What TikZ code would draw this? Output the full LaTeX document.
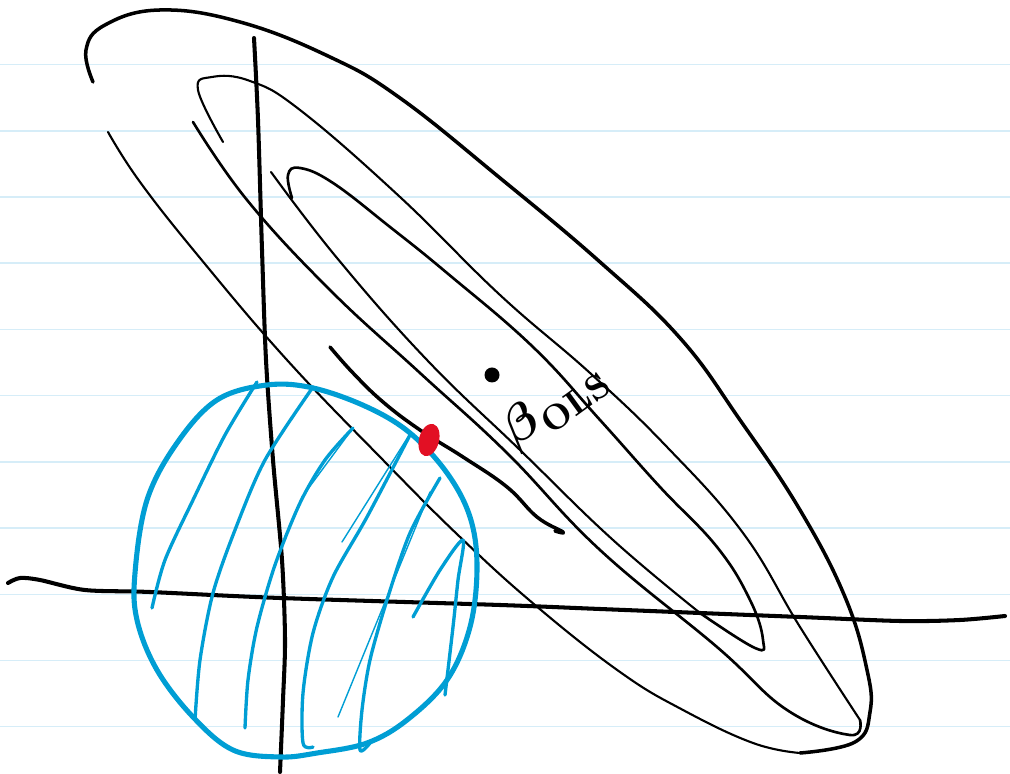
\documentclass[tikz,border=0pt]{standalone}
\usepackage{amsmath}
\usepackage{tikz}
\usetikzlibrary{shapes.geometric}

\definecolor{rulecol}{RGB}{214,237,248}
\definecolor{ridgeblue}{RGB}{0,158,212}
\definecolor{ridgered}{RGB}{226,16,36}

\begin{document}
\begin{tikzpicture}[x=0.01cm,y=-0.01cm,line cap=round,line join=round,
rule line/.style={draw=rulecol,line width=0.45pt},
thin contour/.style={draw=black,line width=0.6pt},
contour/.style={draw=black,line width=0.75pt},
outer contour/.style={draw=black,line width=1pt},
axis line/.style={draw=black,line width=1.15pt},
ridge ball/.style={draw=ridgeblue,line width=1.45pt},
hatch/.style={draw=ridgeblue,line width=0.95pt},
thin hatch/.style={draw=ridgeblue,line width=0.4pt},
ols dot/.style={circle,fill=black,inner sep=0pt,minimum size=1.5mm},
ridge dot/.style={ellipse,fill=ridgered,inner sep=0pt,minimum width=2mm,minimum height=3.3mm}]

\useasboundingbox (0,0) rectangle (1010,774);

%ruled paper
\foreach \k in {0,...,10}
  \draw[rule line] (0,64.7+66.2*\k) -- (1010,64.7+66.2*\k);

%outer contour
\draw[outer contour] plot[smooth,tension=0.7] coordinates {(93,82) (86,50) (105,25) (160,10) (240,22) (330,57) (400,98) (500,178) (600,262) (680,338) (740,420) (800,510) (845,597) (867,670) (870,712) (855,742) (800,753)};
\draw[thin contour] plot[smooth,tension=0.7] coordinates {(800,753) (753,743) (683,710) (620,672) (535,605) (460,537) (383,460) (287,360) (200,258) (140,182) (108,132)};
%middle contour
\draw[thin contour] plot[smooth,tension=0.7] coordinates {(223,142) (198,90) (212,77) (250,81) (300,110) (400,197) (500,295) (590,373) (667,447) (743,533) (800,627) (860,720)};
\draw[contour] plot[smooth,tension=0.7] coordinates {(860,720) (850,735) (787,710) (717,647) (600,550) (507,453) (420,373) (330,290) (247,200) (193,122)};
%inner contour
\draw[contour] plot[smooth,tension=0.7] coordinates {(292,198) (288,175) (300,168) (333,183) (390,227) (447,273) (533,347) (600,420) (660,487) (717,547) (750,600) (763,640) (755,648) (700,613)};
\draw[thin contour] plot[smooth,tension=0.7] coordinates {(700,613) (613,540) (520,450) (427,360) (337,258) (271,172)};
%tangent piece
\draw[outer contour] plot[smooth,tension=0.7] coordinates {(330,347) (353,373) (383,402) (420,430) (463,457) (507,487) (537,517) (563,532) (555,531)};

%axes
\draw[axis line] plot[smooth] coordinates {(254,38) (258,120) (262,250) (266,360) (273,460) (282,560) (285,640) (283,700) (280,772)};
\draw[axis line] plot[smooth] coordinates {(8,583) (20,578) (40,580) (85,590) (150,592) (280,598) (500,605) (600,609) (800,617) (900,621) (960,620) (1005,616)};

%ridge region
\draw[ridge ball] plot[smooth cycle,tension=0.6] coordinates {(135,573) (147,500) (177,443) (217,400) (267,385) (313,388) (367,407) (410,433) (447,473) (470,517) (477,567) (470,627) (447,680) (407,720) (367,743) (317,753) (280,757) (233,750) (193,717) (157,670) (137,620)};
\draw[hatch] plot[smooth] coordinates {(152,608) (165,560) (193,500) (225,435) (257,382)};
\draw[hatch] plot[smooth] coordinates {(195,720) (200,660) (213,593) (235,530) (265,460) (313,387)};
\draw[hatch] plot[smooth] coordinates {(245,728) (248,680) (257,627) (275,565) (300,503) (325,460) (353,428)};
\draw[thin hatch] (353,428) -- (302,497);
\draw[hatch] plot[smooth] coordinates {(313,747) (303,743) (303,693) (313,633) (333,577) (367,517) (410,435)};
\draw[thin hatch] (408,437) -- (342,542);
\draw[thin hatch] (338,717) -- (430,492);
\draw[hatch] plot[smooth] coordinates {(370,743) (360,750) (362,710) (370,660) (387,600) (410,533) (440,478)};
\draw[hatch] plot[smooth] coordinates {(413,617) (440,570) (463,540) (458,580) (453,627) (445,695)};

%estimates
\node[ols dot] (ols) at (492,375) {};
\node[rotate=36] (ols label) at (555,404) {\fontsize{14}{16}\selectfont$\boldsymbol{\beta}_{\mathbf{OLS}}$};
\node[ridge dot,rotate=-15] (ridge) at (429,440) {};

\end{tikzpicture}
\end{document}
